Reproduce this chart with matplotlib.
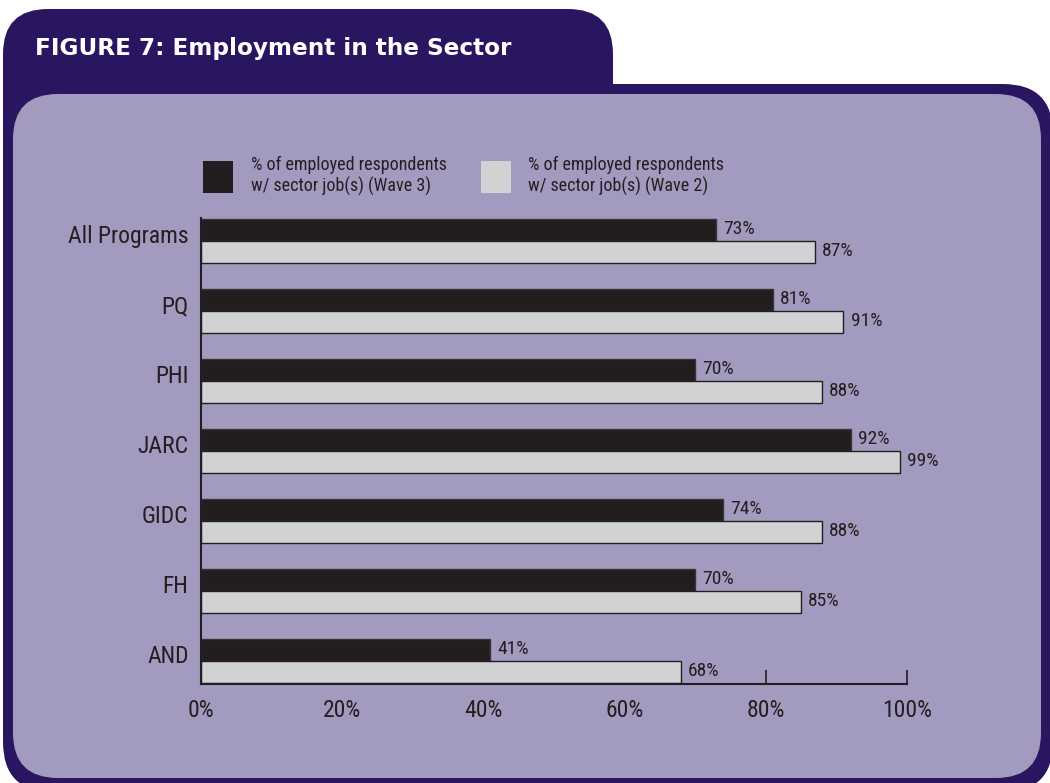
import numpy as np
import matplotlib.pyplot as plt
from matplotlib.patches import FancyBboxPatch, Rectangle

plt.rcParams['font.family'] = ['Roboto Condensed', 'DejaVu Sans']

# survey results, top to bottom
programs = ["All Programs", "PQ", "PHI", "JARC", "GIDC", "FH", "AND"]
wave3 = [73, 81, 70, 92, 74, 70, 41]
wave2 = [87, 91, 88, 99, 88, 85, 68]
xticks = [0, 20, 40, 60, 80, 100]
xtick_labels = ["0%", "20%", "40%", "60%", "80%", "100%"]
legend_labels = ["% of employed respondents\nw/ sector job(s) (Wave 3)",
                 "% of employed respondents\nw/ sector job(s) (Wave 2)"]

DARK_PURPLE = "#2a1660"
LIGHT_PURPLE = "#a39bbf"
BAR_DARK = "#221e1f"
BAR_LIGHT = "#d1d2d4"
TEXT = "#231f20"

W, H = 1050, 783
fig = plt.figure(figsize=(W / 100, H / 100), dpi=100)

# background frame in pixel coordinates
bg = fig.add_axes([0, 0, 1, 1])
bg.set_xlim(0, W)
bg.set_ylim(H, 0)
bg.axis("off")

def rbox(x0, y0, x1, y1, r, color):
    p = FancyBboxPatch((x0, y0), x1 - x0, y1 - y0,
                       boxstyle=f"round,pad=0,rounding_size={r}",
                       facecolor=color, edgecolor="none")
    bg.add_patch(p)

rbox(3, 9, 613, 300, 45, DARK_PURPLE)       # title tab
rbox(3, 84, 1053, 792, 50, DARK_PURPLE)     # outer frame
rbox(13, 94, 1041, 778, 45, LIGHT_PURPLE)   # inner panel

bg.text(35, 48, "FIGURE 7: Employment in the Sector", color="white",
        fontsize=16.7, fontweight="bold", va="center", ha="left",
        family=["DejaVu Sans"])

# legend
bg.add_patch(Rectangle((203, 161), 30, 32, facecolor=BAR_DARK, edgecolor="none"))
bg.add_patch(Rectangle((481, 161), 30, 32, facecolor=BAR_LIGHT, edgecolor="none"))
bg.text(251, 176, legend_labels[0], fontsize=13, color=TEXT, va="center",
        ha="left", linespacing=1.2)
bg.text(528, 176, legend_labels[1], fontsize=13, color=TEXT, va="center",
        ha="left", linespacing=1.2)

# bar chart
ax = fig.add_axes([201 / W, 1 - 684 / H, (907 - 201) / W, (684 - 218) / H])
ax.patch.set_alpha(0)
ax.set_axisbelow(True)

n = len(programs)
pos = np.arange(n)[::-1]
h = 22 / 70

ax.barh(pos + h / 2, wave3, height=h, color=BAR_DARK, edgecolor="#3a3538",
        linewidth=1, zorder=2)
ax.barh(pos - h / 2, wave2, height=h, color=BAR_LIGHT, edgecolor=TEXT,
        linewidth=1, zorder=2)

for p, v3, v2 in zip(pos, wave3, wave2):
    ax.text(v3 + 1.0, p + h / 2 + 0.02, f"{v3}%", fontsize=14, color=TEXT,
            va="center", ha="left")
    ax.text(v2 + 1.0, p - h / 2 + 0.02, f"{v2}%", fontsize=14, color=TEXT,
            va="center", ha="left")

ax.set_xlim(0, 100)
ax.set_ylim(-23 / 70, n - 1 + 23 / 70)
# category names sit a little above the middle of each pair
ax.set_yticks(pos + 0.1)
ax.set_yticklabels(programs, fontsize=17, color=TEXT)
ax.set_xticks(xticks)
ax.set_xticklabels(xtick_labels, fontsize=17, color=TEXT)
ax.tick_params(axis="y", length=0, pad=9)
ax.tick_params(axis="x", direction="in", length=10, width=1.2, color=TEXT, pad=11)

for s in ["top", "right"]:
    ax.spines[s].set_visible(False)
for s in ["left", "bottom"]:
    ax.spines[s].set_color(TEXT)
    ax.spines[s].set_linewidth(1.5)
    ax.spines[s].set_zorder(3)

fig.savefig("out.png", dpi=100)
